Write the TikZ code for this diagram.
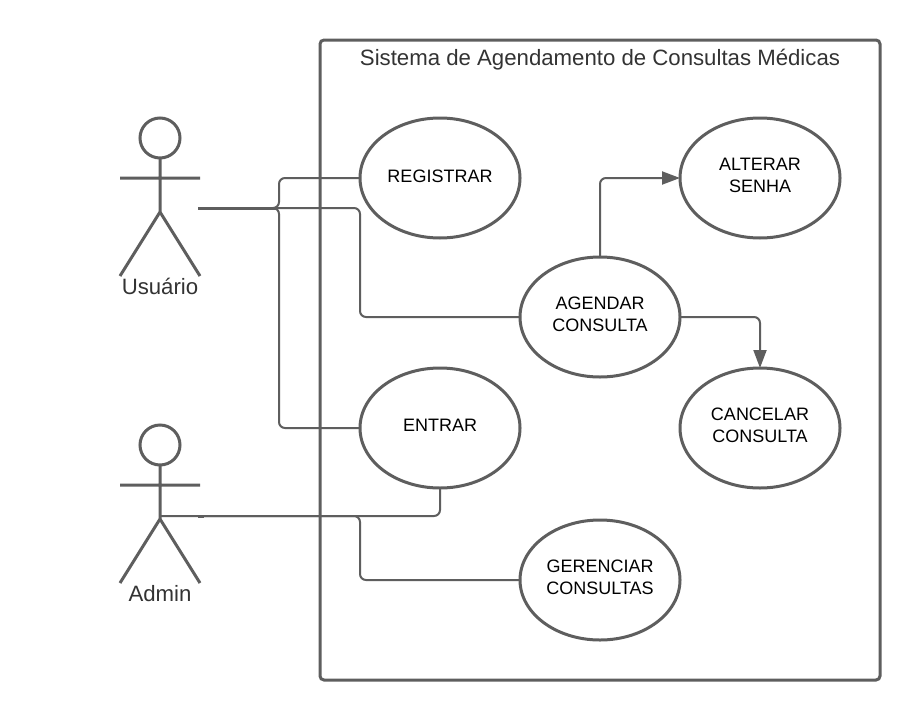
\documentclass[tikz,border=0pt]{standalone}
\usepackage{fontspec}
\setmainfont{Liberation Sans}
\usetikzlibrary{arrows.meta}
\definecolor{ln}{HTML}{5E5E5E}
\definecolor{tx}{HTML}{333333}
\tikzset{
  usecase/.style={draw=none,inner sep=0pt,align=center,text=black,font=\fontsize{18pt}{22pt}\selectfont},
  oval/.style={draw=ln,line width=3pt,fill=white},
  actorline/.style={draw=ln,line width=3pt},
  conn/.style={draw=ln,line width=2pt,rounded corners=6pt},
  arrowconn/.style={conn,-{Triangle[length=18pt,width=13pt]}},
  actorlabel/.style={inner sep=0pt,text=tx,font=\fontsize{22.2pt}{26pt}\selectfont},
}
\begin{document}
\begin{tikzpicture}[x=1pt,y=-1pt]
\useasboundingbox (0,0) rectangle (920,720);
\fill[white] (0,0) rectangle (920,720);
% system box
\draw[draw=ln,line width=3pt,rounded corners=4pt] (320,40) rectangle (880,680);
\node[actorlabel] (title) at (600,60) {Sistema de Agendamento de Consultas Médicas};
% ports
\coordinate (uport) at (198,208);
\coordinate (aport) at (160,516);
\coordinate (atick) at (198,516);
% use case anchors
\coordinate (regL) at (360,178);
\coordinate (entL) at (360,428);
\coordinate (entB) at (440,488);
\coordinate (ageL) at (520,317);
\coordinate (ageT) at (600,257);
\coordinate (ageR) at (680,317);
\coordinate (altL) at (680,178);
\coordinate (canT) at (760,368);
\coordinate (gerL) at (520,580);
% connectors
\draw[conn] (uport) -- (279,208) -- (279,178) -- (regL);
\draw[conn] (uport) -- (279,208) -- (279,428) -- (entL);
\draw[conn] (uport) -- (360,208) -- (360,317) -- (ageL);
\draw[arrowconn] (ageT) -- (600,178) -- (altL);
\draw[arrowconn] (ageR) -- (760,317) -- (canT);
\draw[conn] (aport) -- (440,516) -- (entB);
\draw[conn] (atick) -- (360,516) -- (360,580) -- (gerL);
\draw[ln,line width=3pt] (uport) -- ++(80,0);
\draw[ln,line width=3pt] (atick) -- ++(6,0);
% use cases
\draw[oval] (440,178) ellipse [x radius=80,y radius=60];
\draw[oval] (760,178) ellipse [x radius=80,y radius=60];
\draw[oval] (600,317) ellipse [x radius=80,y radius=60];
\draw[oval] (760,428) ellipse [x radius=80,y radius=60];
\draw[oval] (440,428) ellipse [x radius=80,y radius=60];
\draw[oval] (600,580) ellipse [x radius=80,y radius=60];
\node[usecase] (reg) at (440,176) {REGISTRAR};
\node[usecase] (alt) at (760,175) {ALTERAR\\SENHA};
\node[usecase] (age) at (600,314) {AGENDAR\\CONSULTA};
\node[usecase] (can) at (760,425) {CANCELAR\\CONSULTA};
\node[usecase] (ent) at (440,425) {ENTRAR};
\node[usecase] (ger) at (600,577) {GERENCIAR\\CONSULTAS};
% actors
\draw[actorline] (160,138) circle [radius=20];
\draw[actorline] (160,158) -- (160,212) (120,178) -- (200,178) (120,276) -- (160,212) -- (200,276);
\node[actorlabel] (usuario) at (160,286) {Usuário};
\draw[actorline] (160,445) circle [radius=20];
\draw[actorline] (160,465) -- (160,519) (120,485) -- (200,485) (120,583) -- (160,519) -- (200,583);
\node[actorlabel] (admin) at (160,594) {Admin};
\end{tikzpicture}
\end{document}
